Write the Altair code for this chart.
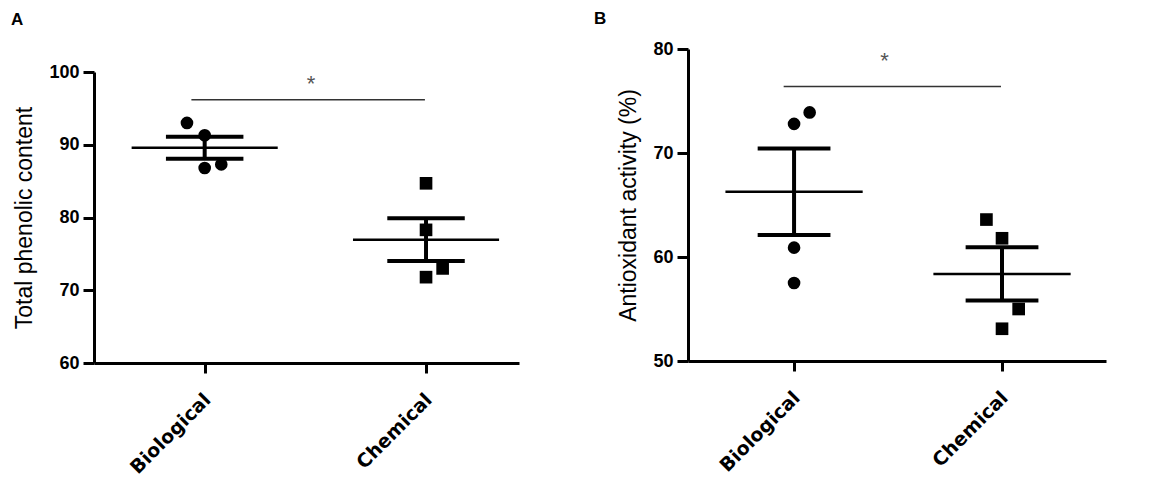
import altair as alt
import pandas as pd
import numpy as np

groups = ["Biological", "Chemical"]

# Panel A: Total phenolic content (individual replicates)
a_bio = [93.0, 91.3, 86.8, 87.3]
a_chem = [84.7, 78.3, 71.8, 73.0]
a_bio_dodge = [-0.08, 0.0, 0.0, 0.075]
a_chem_dodge = [0.0, 0.0, 0.0, 0.075]
a_ticks = [60, 70, 80, 90, 100]
a_sig = [0.94, 1.995, 96.2]
a_star = [1.48, 98.4]

# Panel B: Antioxidant activity (%)
b_bio = [72.8, 73.9, 60.9, 57.5]
b_chem = [63.6, 61.8, 55.0, 53.1]
b_bio_dodge = [0.0, 0.075, 0.0, 0.0]
b_chem_dodge = [-0.075, 0.0, 0.08, 0.0]
b_ticks = [50, 60, 70, 80]
b_sig = [0.95, 1.995, 76.4]
b_star = [1.435, 78.8]

FONT = "Liberation Sans"
XFONT = "DejaVu Sans"


def panel(letter, ytitle, vb, vc, db, dc, ydom, yticks, xdom, w, h, yrange,
          sig, star, toffset, tdx):
    pts = pd.DataFrame({
        "group": ["Biological"] * len(vb) + ["Chemical"] * len(vc),
        "value": vb + vc,
        "x": [1 + d for d in db] + [2 + d for d in dc],
    })
    st = pts.groupby("group")["value"].agg(["mean", "std", "count"]).reset_index()
    st["sem"] = st["std"] / np.sqrt(st["count"])
    st["idx"] = [groups.index(g) + 1 for g in st["group"]]
    st["lo"] = st["mean"] - st["sem"]
    st["hi"] = st["mean"] + st["sem"]
    st["m1"] = st["idx"] - 0.33
    st["m2"] = st["idx"] + 0.33
    st["c1"] = st["idx"] - 0.175
    st["c2"] = st["idx"] + 0.175
    caps = pd.concat([
        st[["idx", "c1", "c2"]].assign(y=st["lo"]),
        st[["idx", "c1", "c2"]].assign(y=st["hi"]),
    ])
    sigdf = pd.DataFrame({"x1": [sig[0]], "x2": [sig[1]], "y": [sig[2]]})
    stardf = pd.DataFrame({"x": [star[0]], "y": [star[1]], "t": ["*"]})

    xs = alt.Scale(domain=xdom, nice=False, zero=False)
    ys = alt.Scale(domain=ydom, nice=False, zero=False, range=yrange)
    xa = alt.Axis(values=[1, 2],
                  labelExpr="datum.value == 1 ? 'Biological' : 'Chemical'",
                  labelAngle=-45, title=None, grid=False, tickSize=10,
                  tickWidth=3, domainWidth=3, domainColor="black",
                  tickColor="black", labelColor="black", labelFontSize=19,
                  labelFontWeight="bold", labelPadding=17, labelOffset=-4,
                  labelFont=XFONT)
    ya = alt.Axis(values=yticks, title=ytitle, grid=False, tickSize=11,
                  tickWidth=3, domainWidth=3, domainColor="black",
                  tickColor="black", labelColor="black", labelFontSize=18,
                  labelFontWeight="bold", labelPadding=4, labelFont=FONT,
                  titleFont=FONT, titleFontSize=23, titleFontWeight="normal",
                  titleColor="black", titlePadding=12)

    points = alt.Chart(pts).mark_point(filled=True, size=160, opacity=1,
                                       color="black").encode(
        x=alt.X("x:Q", scale=xs, axis=xa),
        y=alt.Y("value:Q", scale=ys, axis=ya),
        shape=alt.Shape("group:N", scale=alt.Scale(domain=groups,
                        range=["circle", "square"]), legend=None),
    )
    mean = alt.Chart(st).mark_rule(strokeWidth=2.5, color="black").encode(
        x=alt.X("m1:Q", scale=xs, axis=xa), x2="m2:Q",
        y=alt.Y("mean:Q", scale=ys, axis=ya))
    capm = alt.Chart(caps).mark_rule(strokeWidth=4, color="black").encode(
        x=alt.X("c1:Q", scale=xs, axis=xa), x2="c2:Q",
        y=alt.Y("y:Q", scale=ys, axis=ya))
    vert = alt.Chart(st).mark_rule(strokeWidth=4, color="black").encode(
        x=alt.X("idx:Q", scale=xs, axis=xa),
        y=alt.Y("lo:Q", scale=ys, axis=ya), y2="hi:Q")
    sigl = alt.Chart(sigdf).mark_rule(strokeWidth=1.5, color="#333333").encode(
        x=alt.X("x1:Q", scale=xs, axis=xa), x2="x2:Q",
        y=alt.Y("y:Q", scale=ys, axis=ya))
    startxt = alt.Chart(stardf).mark_text(fontSize=22, color="#555555",
                                          font=FONT, baseline="middle").encode(
        x=alt.X("x:Q", scale=xs, axis=xa),
        y=alt.Y("y:Q", scale=ys, axis=ya), text="t:N")

    return alt.layer(sigl, startxt, mean, capm, vert, points).properties(
        width=w, height=h,
        title=alt.TitleParams(letter, anchor="start", frame="bounds",
                              fontSize=17, fontWeight="bold", font=FONT,
                              color="black", offset=toffset, dx=tdx),
    )


pa = panel("A", "Total phenolic content", a_bio, a_chem, a_bio_dodge,
           a_chem_dodge, [60, 100], a_ticks, [0.5, 2.42], 425, 314, [314, 23],
           a_sig, a_star, 20, -3)
pb = panel("B", "Antioxidant activity (%)", b_bio, b_chem, b_bio_dodge,
           b_chem_dodge, [50, 80], b_ticks, [0.49, 2.5], 418, 312, [312, 0],
           b_sig, b_star, 12, -24)

chart = alt.hconcat(pa, pb, spacing=74).properties(
    padding={"left": 2, "top": 2, "right": 5, "bottom": 2}
).configure_view(stroke=None)

chart.save("out.html", embed_options={"renderer": "svg", "actions": False})
